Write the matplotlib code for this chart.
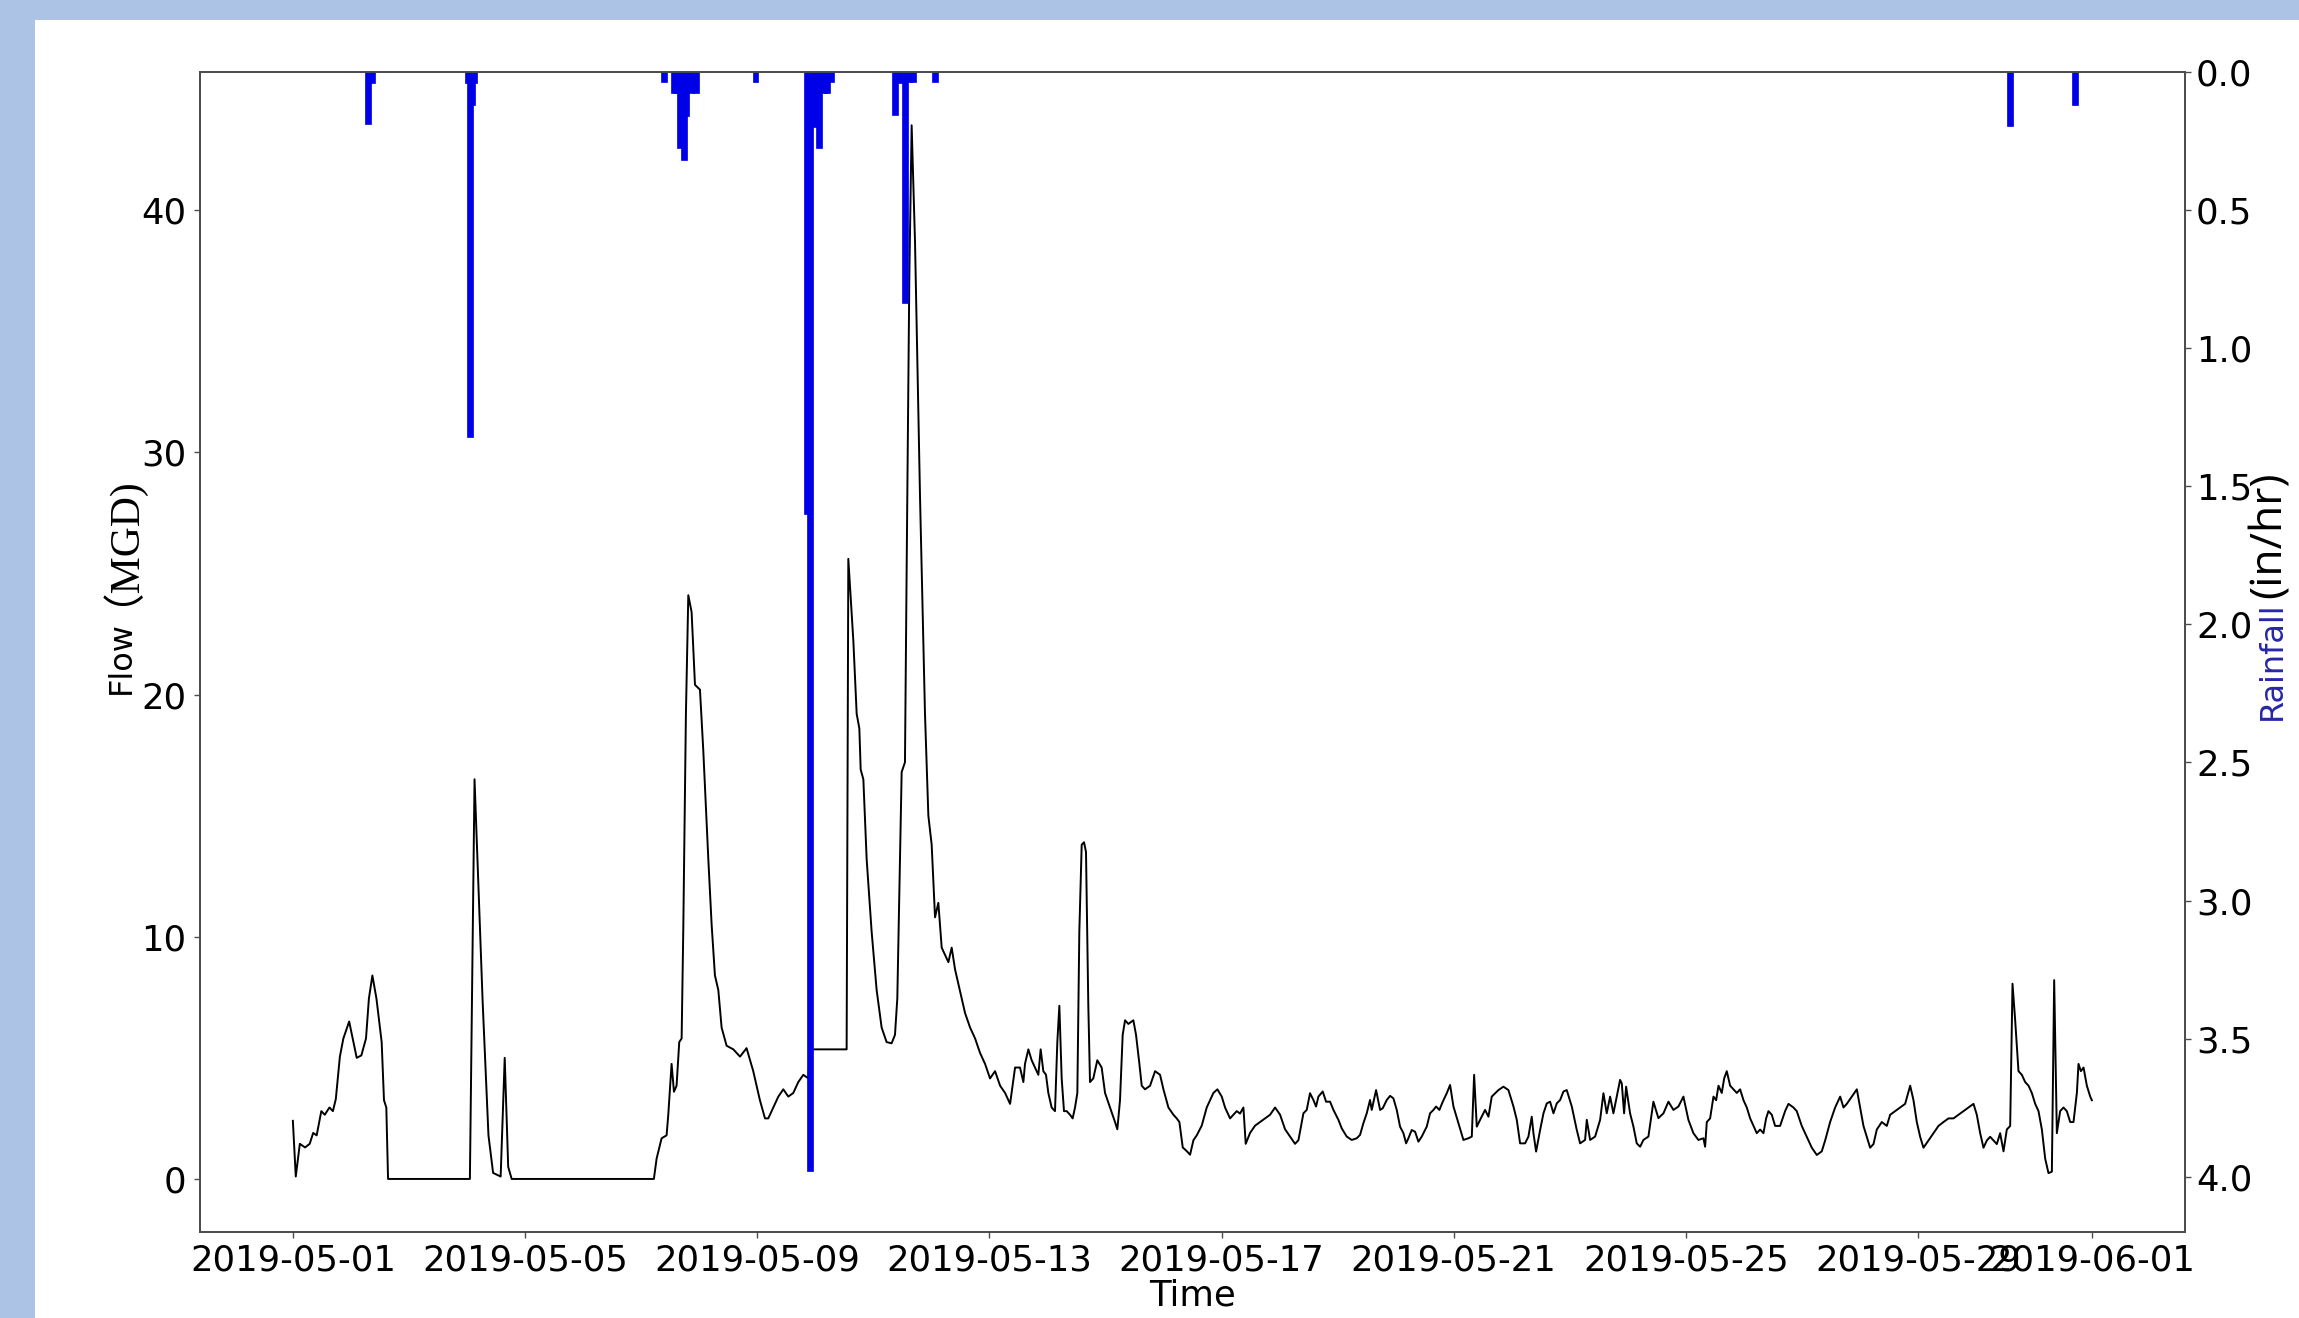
#!/usr/bin/env python3
import datetime as dt
import matplotlib
matplotlib.use("Agg")
import matplotlib.pyplot as plt
import matplotlib.dates as mdates
from matplotlib.patches import Rectangle

START = dt.datetime(2019, 5, 1)

# flow record: days after 2019-05-01 00:00, flow in MGD
flow_days = [
    0.00, 0.05, 0.12, 0.21, 0.29, 0.35, 0.41, 0.49, 0.55, 0.63, 0.69, 0.74, 0.81,
    0.87, 0.97, 1.03, 1.10, 1.18, 1.26, 1.31, 1.37, 1.44, 1.53, 1.57, 1.61, 1.64,
    3.05, 3.13, 3.27, 3.37, 3.45, 3.58, 3.65, 3.71, 3.77, 6.22,
    6.267, 6.353, 6.439, 6.468, 6.525, 6.566, 6.611, 6.657, 6.698, 6.726, 6.772,
    6.813, 6.870, 6.928, 7.014, 7.071, 7.158, 7.215, 7.272, 7.330, 7.387, 7.473,
    7.589, 7.704, 7.817, 7.932, 8.047, 8.134, 8.191, 8.278, 8.364, 8.450, 8.536,
    8.622, 8.708, 8.795, 8.881, 8.910, 9.541, 9.570, 9.657, 9.714, 9.760, 9.783,
    9.829, 9.886, 9.972, 10.058, 10.144, 10.230, 10.316, 10.374, 10.414, 10.460,
    10.489, 10.546, 10.575, 10.621, 10.661, 10.719, 10.805, 10.891, 10.949, 11.006,
    11.064, 11.121, 11.179, 11.236, 11.294, 11.351, 11.409, 11.495, 11.581, 11.668,
    11.754, 11.840, 11.926, 12.012, 12.098, 12.185, 12.271, 12.357, 12.443,
    12.528, 12.586, 12.614, 12.672, 12.729, 12.786, 12.844, 12.884, 12.930, 12.976,
    13.016, 13.073, 13.131, 13.171, 13.206, 13.246, 13.286, 13.332, 13.390, 13.435,
    13.476, 13.516, 13.550, 13.591, 13.631, 13.665, 13.705, 13.734, 13.791, 13.860,
    13.935, 13.993, 14.079, 14.165, 14.205, 14.251, 14.297, 14.338, 14.395, 14.481,
    14.527, 14.585, 14.625, 14.682, 14.769, 14.855, 14.941, 14.999, 15.085, 15.171,
    15.228, 15.274, 15.332, 15.401, 15.458, 15.516, 15.573, 15.659, 15.745, 15.803,
    15.860, 15.929, 16.004, 16.061, 16.147, 16.204, 16.262, 16.319, 16.377, 16.417,
    16.492, 16.578, 16.664, 16.750, 16.836, 16.923, 17.009, 17.095, 17.181, 17.267,
    17.325,
    17.411, 17.468, 17.525, 17.583, 17.629, 17.669, 17.744, 17.801, 17.870, 17.928,
    18.014, 18.071, 18.157, 18.243, 18.330, 18.387, 18.444, 18.502, 18.559, 18.588,
    18.663, 18.732, 18.778, 18.847, 18.904, 18.961, 19.019, 19.076, 19.134, 19.180,
    19.220, 19.277, 19.335, 19.392, 19.450, 19.536, 19.593, 19.651, 19.697, 19.754,
    19.812, 19.881, 19.938, 19.996, 20.082, 20.168, 20.254, 20.312, 20.352, 20.398,
    20.455, 20.541, 20.599, 20.656, 20.771, 20.857, 20.943, 21.030, 21.087, 21.144,
    21.230, 21.288, 21.345, 21.374, 21.420, 21.489, 21.547, 21.604, 21.661, 21.719,
    21.776, 21.834, 21.891, 21.948, 22.035, 22.121, 22.178, 22.264, 22.293, 22.351,
    22.437, 22.523, 22.580, 22.637, 22.695, 22.752, 22.810, 22.867, 22.896, 22.936,
    22.971, 23.039, 23.097, 23.154, 23.212, 23.269, 23.355, 23.441, 23.527, 23.614,
    23.700, 23.786, 23.872, 23.958, 24.044, 24.130, 24.216, 24.303, 24.332,
    24.361, 24.418, 24.476, 24.522, 24.562, 24.619, 24.660, 24.705, 24.763, 24.820,
    24.878, 24.935, 24.993, 25.050, 25.108, 25.165, 25.222, 25.280, 25.337, 25.383,
    25.423, 25.481, 25.538, 25.624, 25.710, 25.768, 25.854, 25.911, 25.997, 26.084,
    26.170, 26.256, 26.342, 26.400, 26.486, 26.572, 26.659, 26.716, 26.773, 26.859,
    26.946, 27.003, 27.060, 27.118, 27.175, 27.233, 27.290, 27.376, 27.462, 27.520,
    27.606, 27.692, 27.778, 27.865, 27.922, 27.979, 28.037, 28.094, 28.180, 28.267,
    28.353, 28.439, 28.525, 28.611, 28.697, 28.784, 28.870, 28.956, 29.013, 29.071,
    29.128, 29.186, 29.243, 29.301, 29.358, 29.415, 29.473, 29.530, 29.588, 29.628,
    29.674, 29.731, 29.789, 29.846, 29.904, 29.961, 30.019, 30.076, 30.134, 30.191,
    30.248, 30.306, 30.346, 30.392, 30.449, 30.507, 30.564, 30.622, 30.679, 30.737,
    30.765, 30.806, 30.852, 30.909, 30.967, 30.995,
]
flow_mgd = [
    2.4, 0.1, 1.45, 1.3, 1.45, 1.9, 1.8, 2.8, 2.65, 2.95, 2.8, 3.3, 5.05,
    5.8, 6.5, 5.8, 5.0, 5.1, 5.8, 7.45, 8.4, 7.45, 5.65, 3.25, 2.95, 0.0,
    0.0, 16.5, 7.3, 1.8, 0.25, 0.1, 5.0, 0.5, 0.0, 0.0,
    0.84, 1.68, 1.8, 2.65, 4.75, 3.6, 3.85, 5.65, 5.8, 10.2, 19.2,
    24.1, 23.4, 20.4, 20.2, 17.7, 13.2, 10.5, 8.4, 7.8, 6.25, 5.5,
    5.35, 5.05, 5.4, 4.45, 3.25, 2.5, 2.5, 2.95, 3.4, 3.7, 3.4,
    3.55, 4.0, 4.3, 4.15, 5.35, 5.35, 25.6, 22.2, 19.2, 18.6, 16.9,
    16.5, 13.2, 10.2, 7.8, 6.25, 5.65, 5.6, 5.95, 7.45, 13.2,
    16.8, 17.2, 25.2, 37.2, 43.5, 38.7, 28.2, 19.2, 15.0, 13.8,
    10.8, 11.4, 9.55, 9.25, 8.95, 9.55, 8.65, 7.75, 6.85, 6.25,
    5.8, 5.2, 4.75, 4.15, 4.45, 3.85, 3.55, 3.1, 4.6,
    4.6, 4.0, 4.75, 5.35, 4.9, 4.6, 4.3, 5.35, 4.45, 4.3,
    3.55, 2.95, 2.8, 5.65, 7.15, 4.15, 2.8, 2.8, 2.65, 2.5,
    2.95, 3.55, 10.2, 13.8, 13.9, 13.5, 7.15, 4.0, 4.15, 4.9,
    4.6, 3.55, 2.95, 2.35, 2.05, 3.25, 5.95, 6.55, 6.4, 6.55,
    5.95, 4.75, 3.85, 3.7, 3.85, 4.45, 4.3, 3.7, 2.95, 2.65,
    2.5, 2.35, 1.3, 1.15, 1.0, 1.6, 1.8, 2.2, 2.95, 3.25,
    3.55, 3.7, 3.4, 2.95, 2.5, 2.65, 2.8, 2.7, 2.95, 1.45,
    1.9, 2.2, 2.35, 2.5, 2.65, 2.95, 2.65, 2.05, 1.75, 1.45,
    1.6,
    2.71, 2.85, 3.54, 3.26, 2.99, 3.40, 3.61, 3.19, 3.19, 2.85,
    2.44, 2.09, 1.75, 1.61, 1.68, 1.82, 2.30, 2.71, 3.26, 2.85,
    3.67, 2.85, 2.92, 3.26, 3.43, 3.33, 2.85, 2.16, 1.89, 1.47,
    1.68, 2.02, 1.95, 1.54, 1.75, 2.16, 2.71, 2.85, 2.99, 2.85,
    3.19, 3.54, 3.88, 2.99, 2.30, 1.61, 1.68, 1.75, 4.30, 2.16,
    2.44, 2.85, 2.57, 3.40, 3.67, 3.81, 3.67, 2.99, 2.44, 1.47,
    1.47, 1.75, 2.57, 1.89, 1.13, 2.02, 2.71, 3.12, 3.19, 2.71,
    3.12, 3.26, 3.61, 3.67, 2.99, 2.02, 1.47, 1.61, 2.44, 1.61,
    1.75, 2.44, 3.54, 2.71, 3.40, 2.71, 3.40, 4.09, 3.95, 2.71,
    3.81, 2.71, 2.16, 1.47, 1.33, 1.61, 1.75, 3.19, 2.51, 2.71,
    3.19, 2.85, 2.99, 3.40, 2.44, 1.89, 1.61, 1.68, 1.33,
    2.35, 2.50, 3.40, 3.25, 3.85, 3.55, 4.15, 4.45, 3.85, 3.70,
    3.55, 3.70, 3.25, 2.95, 2.50, 2.19, 1.89, 2.04, 1.89, 2.50,
    2.80, 2.65, 2.19, 2.19, 2.80, 3.10, 2.95, 2.80, 2.19, 1.74,
    1.29, 0.99, 1.14, 1.59, 2.35, 2.95, 3.40, 2.95, 3.10, 3.40,
    3.70, 2.95, 2.19, 1.74, 1.29, 1.44, 2.04, 2.35, 2.19, 2.65,
    2.80, 2.95, 3.10, 3.85, 3.25, 2.35, 1.74, 1.29, 1.59, 1.89,
    2.19, 2.35, 2.50, 2.50, 2.65, 2.80, 2.95, 3.10, 2.65, 1.89,
    1.29, 1.59, 1.74, 1.59, 1.44, 1.89, 1.14, 2.04, 2.19, 8.06,
    6.55, 4.45, 4.30, 4.00, 3.85, 3.55, 3.10, 2.80, 2.04, 0.84,
    0.24, 0.30, 8.21, 1.89, 2.80, 2.95, 2.80, 2.35, 2.35, 3.55,
    4.75, 4.45, 4.60, 3.85, 3.40, 3.25,
]

# hourly rainfall bars: days after 2019-05-01, in/hr
rain_days = [
    1.30, 1.36, 3.02, 3.05, 3.09, 3.12,
    6.40, 6.56, 6.62, 6.67, 6.74, 6.78, 6.86, 6.95, 7.97,
    8.85, 8.91, 9.00, 9.06, 9.15, 9.20, 9.28,
    10.37, 10.45, 10.54, 10.62, 10.68, 11.07,
    29.59, 30.70,
]
rain_inhr = [
    0.19, 0.04, 0.04, 1.32, 0.12, 0.04,
    0.035, 0.077, 0.077, 0.276, 0.319, 0.16, 0.077, 0.077, 0.035,
    1.60, 3.98, 0.198, 0.276, 0.077, 0.077, 0.035,
    0.156, 0.04, 0.837, 0.035, 0.035, 0.035,
    0.194, 0.12,
]

tick_dates = ["2019-05-01", "2019-05-05", "2019-05-09", "2019-05-13", "2019-05-17",
              "2019-05-21", "2019-05-25", "2019-05-29", "2019-06-01"]
rain_ticks = [0.0, 0.5, 1.0, 1.5, 2.0, 2.5, 3.0, 3.5, 4.0]
flow_ticks = [0, 10, 20, 30, 40]

W, H = 2299, 1318
SPINE = "#4d4d4d"
TICK_SIZE = 25.5


def to_time(days):
    return [START + dt.timedelta(days=d) for d in days]


def style_axis(ax):
    for s in ax.spines.values():
        s.set_color(SPINE)
        s.set_linewidth(1.3)


def plot_flow_rain():
    fig = plt.figure(figsize=(W / 100, H / 100), dpi=100)
    # slide background: blue strip on left and top, white page
    fig.patch.set_facecolor("#adc3e5")
    fig.add_artist(Rectangle((35 / W, 0), 1 - 35 / W, 1 - 20 / H,
                             transform=fig.transFigure, facecolor="white",
                             edgecolor="none", zorder=-5))

    ax = fig.add_axes([200 / W, 1 - 1232 / H, 1985 / W, 1160 / H])
    ax.plot(to_time(flow_days), flow_mgd, color="black", lw=1.4)
    ax.set_xlim(START - dt.timedelta(days=1.6), START + dt.timedelta(days=32.6))
    ax.set_ylim(-2.19, 45.7)
    ax.set_yticks(flow_ticks)
    ax.set_xticks([dt.datetime.strptime(t, "%Y-%m-%d") for t in tick_dates])
    ax.xaxis.set_major_formatter(mdates.DateFormatter("%Y-%m-%d"))
    ax.tick_params(axis="both", labelsize=TICK_SIZE, length=4, width=1,
                   color=SPINE, pad=4)
    ax.tick_params(axis="y", pad=6)
    ax.set_xlabel("Time", fontsize=TICK_SIZE, labelpad=1)
    style_axis(ax)

    ax2 = ax.twinx()
    ax2.bar(to_time(rain_days), rain_inhr, width=0.1, color="#0000e8",
            edgecolor="#0000e8", linewidth=0.5, align="center")
    ax2.set_ylim(4.2, 0.0)
    ax2.set_yticks(rain_ticks)
    ax2.set_yticklabels([f"{v:.1f}" for v in rain_ticks])
    ax2.tick_params(axis="y", labelsize=TICK_SIZE, length=4, width=1,
                    color=SPINE, pad=4)
    style_axis(ax2)

    # y labels (the originals mix fonts)
    fig.text(121 / W, 1 - 658 / H, "Flow", rotation=90, ha="center", va="center",
             fontsize=23, family="DejaVu Sans")
    fig.text(98 / W, 1 - 530 / H, "\uff08MGD)", rotation=90, ha="center",
             va="center", fontsize=30,
             family=["Liberation Serif", "Noto Sans CJK SC"])
    fig.text(2272 / W, 1 - 661 / H, "Rainfall", rotation=90, ha="center",
             va="center", fontsize=23, color="#2626a8", family="DejaVu Sans")
    fig.text(2270 / W, 1 - 535 / H, "(in/hr)", rotation=90, ha="center",
             va="center", fontsize=32, family="Open Sans")

    fig.savefig("out.png", dpi=100, facecolor=fig.get_facecolor())
    plt.close(fig)


def main():
    plot_flow_rain()


if __name__ == "__main__":
    main()
